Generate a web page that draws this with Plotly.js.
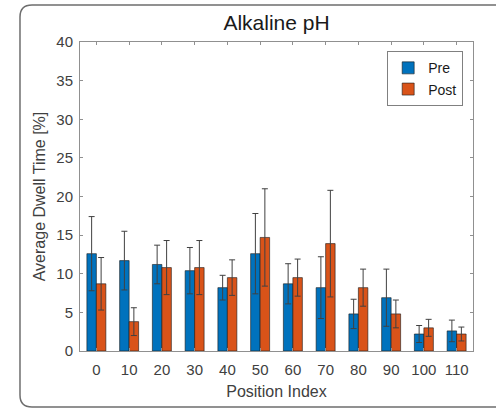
<!DOCTYPE html>
<html>
<head>
<meta charset="utf-8">
<script src="https://cdn.plot.ly/plotly-3.0.1.min.js"></script>
<style>
html,body{margin:0;padding:0;background:#fff;overflow:hidden;}
#chart{width:496px;height:409px;}
</style>
</head>
<body>
<div id="chart"></div>
<script>
var categories = ['0','10','20','30','40','50','60','70','80','90','100','110'];
var preValues  = [12.6, 11.7, 11.2, 10.4, 8.2, 12.6, 8.7, 8.2, 4.8, 6.9, 2.2, 2.6];
var preErr     = [4.8, 3.8, 2.5, 3.0, 1.6, 5.2, 2.6, 4.0, 1.9, 3.7, 1.1, 1.4];
var postValues = [8.7, 3.8, 10.8, 10.8, 9.5, 14.7, 9.5, 13.9, 8.2, 4.8, 3.0, 2.2];
var postErr    = [3.4, 1.8, 3.5, 3.5, 2.3, 6.3, 2.4, 6.9, 2.4, 1.8, 1.1, 0.9];
var yTicks = [0, 5, 10, 15, 20, 25, 30, 35, 40];

var errStyle = {type: 'data', visible: true, color: '#404040', thickness: 1, width: 3};

var traces = [
  {
    type: 'bar', name: 'Pre', x: categories, y: preValues,
    marker: {color: '#0072BD', line: {color: '#1a1a1a', width: 0.6}},
    error_y: Object.assign({array: preErr}, errStyle)
  },
  {
    type: 'bar', name: 'Post', x: categories, y: postValues,
    marker: {color: '#D95319', line: {color: '#1a1a1a', width: 0.6}},
    error_y: Object.assign({array: postErr}, errStyle)
  }
];

// rounded outer frame in paper coords (open on the right)
var L = -0.1527, R = 1.3, T = 1.1197, B = -0.1812, rx = 0.0305, ry = 0.0388;
var framePath = 'M ' + R + ' ' + T + ' L ' + (L + rx) + ' ' + T +
  ' Q ' + L + ' ' + T + ' ' + L + ' ' + (T - ry) +
  ' L ' + L + ' ' + (B + ry) + ' Q ' + L + ' ' + B + ' ' + (L + rx) + ' ' + B +
  ' L ' + R + ' ' + B;

var layout = {
  width: 496, height: 409,
  margin: {l: 80, r: 23, t: 42, b: 58},
  paper_bgcolor: '#ffffff', plot_bgcolor: '#ffffff',
  font: {family: 'Liberation Sans, Arial, sans-serif', color: '#404040', size: 14},
  title: {text: 'Alkaline pH', font: {size: 21, color: '#1a1a1a'}, x: 0.5, xref: 'paper', y: 0.945, yanchor: 'middle'},
  barmode: 'group', bargap: 0.42, bargroupgap: 0,
  showlegend: true,
  legend: {x: 0.975, y: 0.97, xanchor: 'right', yanchor: 'top', bordercolor: '#808080', borderwidth: 1,
           bgcolor: '#ffffff', font: {size: 14, color: '#1a1a1a'}, tracegroupgap: 0, itemwidth: 30},
  xaxis: {
    type: 'category', range: [-0.5, 11.5],
    showline: true, linecolor: '#909090', linewidth: 1, mirror: 'ticks',
    ticks: 'inside', ticklen: 3, tickcolor: '#909090',
    showgrid: false, zeroline: false,
    tickfont: {size: 15, color: '#404040'}, ticklabelstandoff: 5,
    title: {text: 'Position Index', font: {size: 16, color: '#404040'}, standoff: 8}
  },
  yaxis: {
    range: [0, 40], tickvals: yTicks,
    showline: true, linecolor: '#909090', linewidth: 1, mirror: 'ticks',
    ticks: 'inside', ticklen: 3, tickcolor: '#909090',
    showgrid: false, zeroline: false,
    tickfont: {size: 15, color: '#404040'}, ticklabelstandoff: 3,
    title: {text: 'Average Dwell Time [%]', font: {size: 16, color: '#404040'}, standoff: 6}
  },
  shapes: [
    {type: 'path', xref: 'paper', yref: 'paper', path: framePath,
     line: {color: '#6e6e6e', width: 1.5}, layer: 'below'}
  ]
};

Plotly.newPlot('chart', traces, layout, {displayModeBar: false, staticPlot: true});
</script>
</body>
</html>
